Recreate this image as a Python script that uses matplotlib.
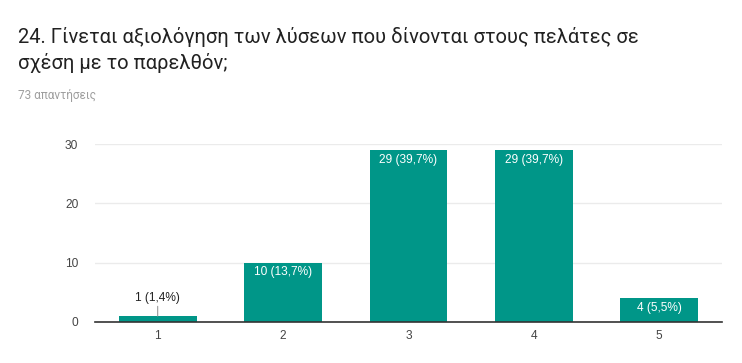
import matplotlib

matplotlib.use("Agg")
import matplotlib.pyplot as plt

plt.rcParams["font.family"] = ["Roboto", "DejaVu Sans"]

# Responses per rating (73 total)
categories = ["1", "2", "3", "4", "5"]
counts = [1, 10, 29, 29, 4]
pct_labels = ["1 (1,4%)", "10 (13,7%)", "29 (39,7%)", "29 (39,7%)", "4 (5,5%)"]
yticks = [0, 10, 20, 30]

TITLE = "24. Γίνεται αξιολόγηση των λύσεων που δίνονται στους πελάτες σε\nσχέση με το παρελθόν;"
SUBTITLE = "73 απαντήσεις"
TEAL = "#009688"
CHART_FONT = ["Liberation Sans", "DejaVu Sans"]

fig = plt.figure(figsize=(7.42, 3.63), dpi=100)
ax = fig.add_axes([0.128, 0.113, 0.845, 0.49])

xs = list(range(1, len(categories) + 1))
bars = ax.bar(xs, counts, width=0.62, color=TEAL, zorder=2)

for bar, n, lab in zip(bars, counts, pct_labels):
    cx = bar.get_x() + bar.get_width() / 2
    if n >= 3:
        ax.annotate(lab, (cx, n), xytext=(0, -2.5), textcoords="offset points",
                    ha="center", va="top", color="white", fontsize=8.6,
                    family=CHART_FONT, zorder=3)
    else:
        # small bar: label sits above with a short leader line
        ax.annotate(lab, (cx, n), xytext=(0, 9), textcoords="offset points",
                    ha="center", va="bottom", color="#222222", fontsize=8.6,
                    family=CHART_FONT,
                    arrowprops=dict(arrowstyle="-", color="#999999", lw=0.8,
                                    shrinkA=0, shrinkB=0), zorder=3)

ax.set_xlim(0.5, 5.5)
ax.set_ylim(0, 30)
ax.set_yticks(yticks)
ax.set_xticks(xs)
ax.set_xticklabels(categories)
ax.grid(axis="y", color="#ebebeb", lw=1, zorder=0)
for side in ("top", "right", "left"):
    ax.spines[side].set_visible(False)
ax.spines["bottom"].set_color("#333333")
ax.spines["bottom"].set_linewidth(1.2)
ax.spines["bottom"].set_zorder(4)
ax.tick_params(axis="both", length=0, labelsize=8.6, labelcolor="#444444")
ax.tick_params(axis="y", pad=12)
ax.tick_params(axis="x", pad=6)
for t in ax.get_xticklabels() + ax.get_yticklabels():
    t.set_family(CHART_FONT)

fig.text(18 / 742, 1 - 27 / 363, TITLE, fontsize=14.5, color="#212121",
         ha="left", va="top", linespacing=1.35)
fig.text(18 / 742, 1 - 89 / 363, SUBTITLE, fontsize=8.5, color="#9e9e9e",
         ha="left", va="top")

fig.savefig("out.png", dpi=100, facecolor="white")
